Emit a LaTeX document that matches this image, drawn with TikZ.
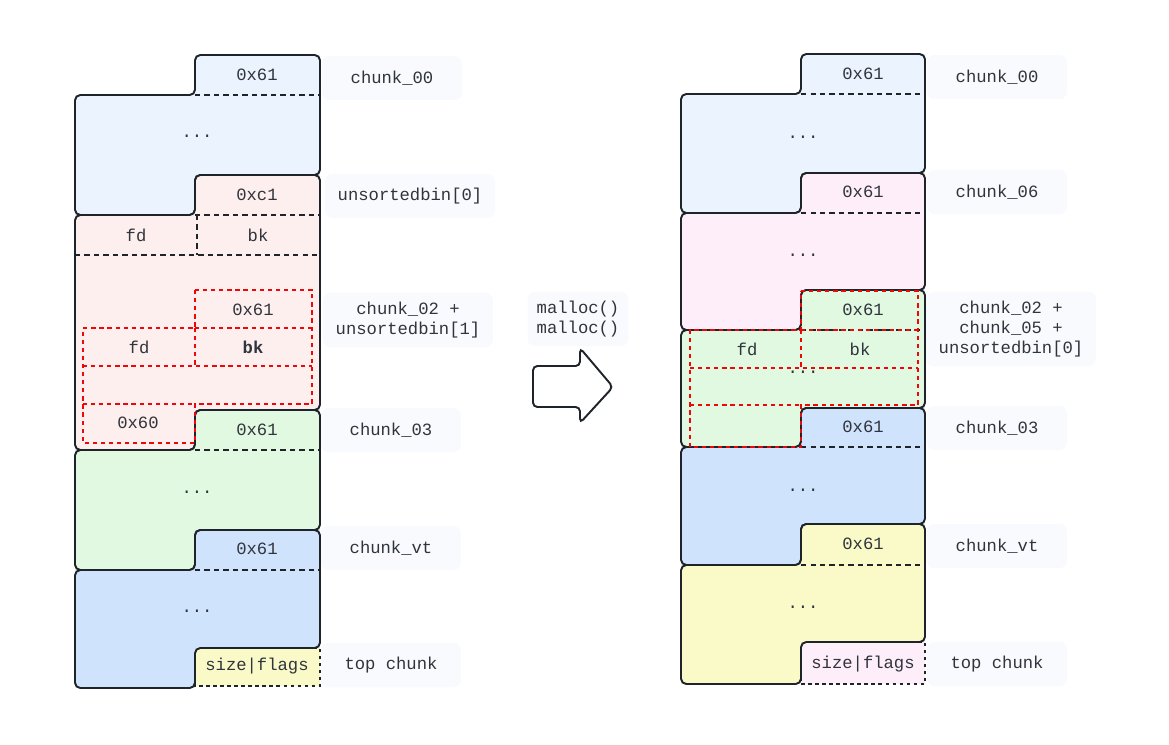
\documentclass[tikz,border=0pt]{standalone}
\usepackage{fontspec}
\newfontfamily\codefont{Liberation Mono}
\definecolor{ink}{RGB}{31,36,43}
\definecolor{txt}{RGB}{48,52,60}
\definecolor{blueA}{RGB}{235,243,254}
\definecolor{blueB}{RGB}{207,227,252}
\definecolor{pinkA}{RGB}{253,239,238}
\definecolor{pinkB}{RGB}{253,238,250}
\definecolor{greenA}{RGB}{225,248,225}
\definecolor{yellowA}{RGB}{250,250,201}
\definecolor{tagbg}{RGB}{248,250,253}
\definecolor{freered}{RGB}{236,8,8}

\begin{document}
\begin{tikzpicture}[x=0.02cm, y=-0.02cm,
  every node/.style={font=\codefont\fontsize{9.8pt}{11.4pt}\selectfont, text=txt},
  chunk/.style={draw=ink, line width=1.1pt, rounded corners=3pt},
  sep/.style={draw=ink, line width=0.85pt, dash pattern=on 3pt off 2.4pt},
  topbox/.style={draw=ink, line width=0.85pt, dash pattern=on 2pt off 2pt},
  freed/.style={draw=freered, line width=0.9pt, dash pattern=on 2.4pt off 2.2pt},
  tag/.style={fill=tagbg, rounded corners=4pt, minimum width=2.8cm, minimum height=0.88cm, inner xsep=0.25cm, inner ysep=0.18cm, align=center}]
\useasboundingbox (0,0) rectangle (1169,744);

% left heap, before
\draw[topbox, fill=yellowA] (195,648) rectangle (320,686);
\draw[chunk, fill=blueA] (195,55) -- (320,55) -- (320,175) -- (195,175) -- (195,215) -- (75,215) -- (75,95) -- (195,95) -- cycle;
\draw[chunk, fill=pinkA] (195,175) -- (320,175) -- (320,410) -- (195,410) -- (195,450) -- (75,450) -- (75,215) -- (195,215) -- cycle;
\draw[chunk, fill=greenA] (195,410) -- (320,410) -- (320,530) -- (195,530) -- (195,570) -- (75,570) -- (75,450) -- (195,450) -- cycle;
\draw[chunk, fill=blueB] (195,530) -- (320,530) -- (320,648) -- (195,648) -- (195,688) -- (75,688) -- (75,570) -- (195,570) -- cycle;
\draw[sep] (195,95) -- (320,95);
\draw[sep] (195,215) -- (320,215);
\draw[sep] (197,215) -- (197,255);
\draw[sep] (75,255) -- (320,255);
\draw[sep] (195,450) -- (320,450);
\draw[sep] (195,570) -- (320,570);
\draw[freed] (195,290) -- (312,290) -- (312,404) -- (195,404) -- (195,443) -- (83,443) -- (83,328) -- (195,328) -- cycle;
\draw[freed] (195,328) -- (312,328);
\draw[freed] (195,328) -- (195,366);
\draw[freed] (83,366) -- (312,366);
\draw[freed] (83,404) -- (195,404);

\node (lsz00) at (257,75) {0x61};
\node (ldot00) at (197,136) {...};
\node (lszub) at (257,195) {0xc1};
\node (lfd) at (136,235) {fd};
\node (lbk) at (258,235) {bk};
\node (lsz02) at (253,310) {0x61};
\node (lfd02) at (139,347) {fd};
\node (lbk02) at (253,347) {\textbf{bk}};
\node (lprev) at (138,423) {0x60};
\node (lsz03) at (257,430) {0x61};
\node (ldot03) at (197,492) {...};
\node (lszvt) at (257,549) {0x61};
\node (ldotvt) at (197,611) {...};
\node (lsztop) at (257,666) {size|flags};

\node (ltag00) [tag] at (392,78) {chunk\_00};
\node (ltagub) [tag] at (410,196) {unsortedbin[0]};
\node (ltag02) [tag] at (408,320) {chunk\_02 +\\unsortedbin[1]};
\node (ltag03) [tag] at (391,430) {chunk\_03};
\node (ltagvt) [tag] at (391,548) {chunk\_vt};
\node (ltagtop) [tag] at (391,665) {top chunk};

% two mallocs
\node (calls) [tag, minimum width=0cm, inner xsep=0.18cm] at (578,319) {malloc()\\malloc()};
\draw[draw=ink, line width=1.1pt, rounded corners=2.5pt] (533,366) -- (580,366) -- (580,348) -- (613,387) -- (580,423) -- (580,407) -- (533,407) -- cycle;

% right heap, after
\draw[topbox, fill=pinkB] (801,642) rectangle (925,684);
\draw[chunk, fill=blueA] (801,54) -- (925,54) -- (925,173) -- (801,173) -- (801,213) -- (681,213) -- (681,94) -- (801,94) -- cycle;
\draw[chunk, fill=pinkB] (801,173) -- (925,173) -- (925,290) -- (801,290) -- (801,330) -- (681,330) -- (681,213) -- (801,213) -- cycle;
\draw[chunk, fill=greenA] (801,290) -- (925,290) -- (925,408) -- (801,408) -- (801,447) -- (681,447) -- (681,330) -- (801,330) -- cycle;
\draw[chunk, fill=blueB] (801,408) -- (925,408) -- (925,524) -- (801,524) -- (801,565) -- (681,565) -- (681,447) -- (801,447) -- cycle;
\draw[chunk, fill=yellowA] (801,524) -- (925,524) -- (925,642) -- (801,642) -- (801,684) -- (681,684) -- (681,565) -- (801,565) -- cycle;
\draw[sep] (801,94) -- (925,94);
\draw[sep] (801,213) -- (925,213);
\draw[sep] (801,330) -- (925,330);
\draw[sep] (801,447) -- (925,447);
\draw[sep] (801,565) -- (925,565);

\node (rsz00) at (863,74) {0x61};
\node (rdot00) at (803,137) {...};
\node (rsz06) at (863,192) {0x61};
\node (rdot06) at (803,255) {...};
\node (rsz02) at (863,310) {0x61};
\node (rfd) at (747,349) {fd};
\node (rbk) at (860,349) {bk};
\node (rdot02) at (803,372) {...};
\node (rsz03) at (863,427) {0x61};
\node (rdot03) at (803,490) {...};
\node (rszvt) at (863,544) {0x61};
\node (rdotvt) at (803,607) {...};
\node (rsztop) at (863,664) {size|flags};

\draw[freed] (801,291) -- (918,291) -- (918,405) -- (801,405) -- (801,447) -- (690,447) -- (690,330) -- (801,330) -- cycle;
\draw[freed] (801,330) -- (918,330);
\draw[freed] (801,330) -- (801,368);
\draw[freed] (690,368) -- (918,368);
\draw[freed] (690,405) -- (801,405);

\node (rtag00) [tag] at (997,77) {chunk\_00};
\node (rtag06) [tag] at (997,192) {chunk\_06};
\node (rtag02) [tag] at (1011,329) {chunk\_02 +\\chunk\_05 +\\unsortedbin[0]};
\node (rtag03) [tag] at (997,428) {chunk\_03};
\node (rtagvt) [tag] at (997,546) {chunk\_vt};
\node (rtagtop) [tag] at (997,664) {top chunk};
\end{tikzpicture}
\end{document}
